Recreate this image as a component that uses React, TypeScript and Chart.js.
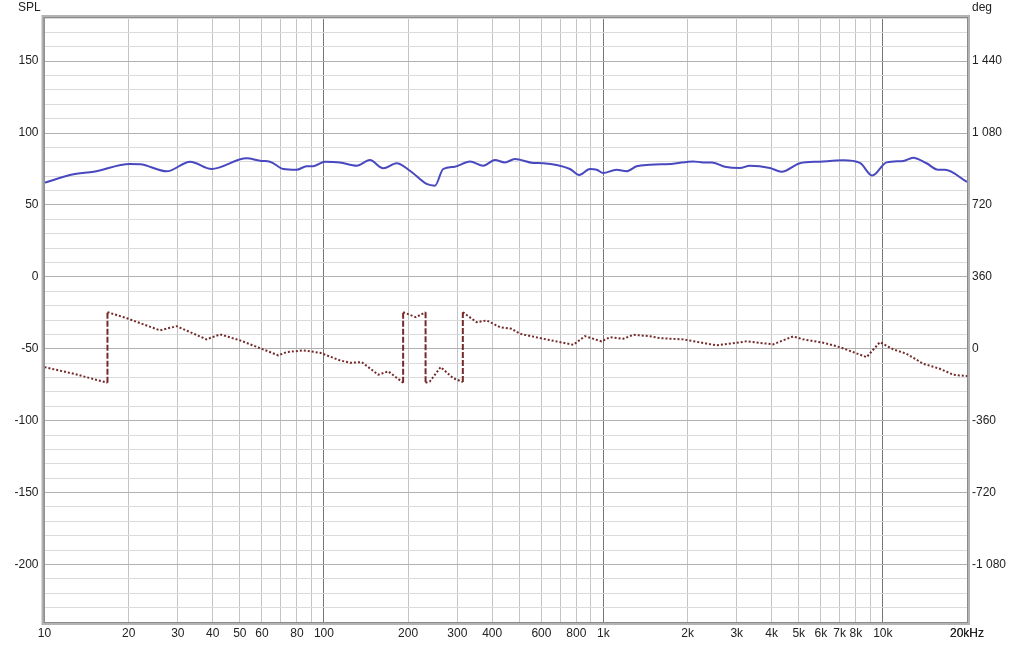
import React, { useEffect, useRef } from "react";
import { Chart, registerables } from "chart.js";

Chart.register(...registerables);

// SPL (magnitude) trace
const splFreq = [10, 12.7, 15, 20.2, 22, 27.4, 33.2, 39.6, 52.9, 59.8, 64.1, 71.5, 79.8, 86.7, 91.6, 100.8, 114, 131, 146, 163, 182, 203, 233, 249.6, 267, 294, 333, 371.5, 409, 444, 482, 561, 609, 759, 819, 895, 946, 998, 1114, 1211, 1315, 1466, 1778, 2096, 2275, 2438, 2720, 3077, 3342, 3942, 4341, 5047, 5951, 7211, 8279, 9160, 10312, 11830, 12837, 14330, 15770, 16670, 20000];
const splValues = [65.5, 71.3, 73.1, 78.5, 78.3, 73.4, 80.1, 75, 82.4, 80.6, 80.1, 75, 74.5, 76.9, 76.9, 80.1, 79.6, 77.3, 81.2, 75.5, 79, 73.8, 64.6, 63.4, 75, 76.6, 80.3, 77.3, 81.2, 79.6, 81.9, 79.2, 79, 75, 70.8, 75, 74.5, 72.2, 74.5, 73.4, 76.9, 78, 78.7, 80.3, 79.6, 79.6, 76.6, 75.7, 77.3, 75.7, 73.1, 79, 80.1, 81, 79.2, 70.4, 79.6, 80.6, 82.9, 79, 74.5, 74.5, 66];

// Phase trace (degrees, wrapped)
const phaseFreq = [10, 12.7, 16.8, 16.8, 19.7, 25.9, 29.7, 38, 42.5, 50.1, 59.8, 68.6, 73.5, 84.3, 96.8, 114, 123.9, 136.5, 156.4, 169.8, 192, 192, 213.4, 231, 231, 239.4, 261.6, 290, 314, 314, 351.9, 382, 426.6, 469.4, 502.6, 609, 780, 859, 985, 1055, 1177, 1279, 1467, 1592, 1930, 2541, 3253, 4051, 4776, 5187, 6116, 7017, 8745, 9756, 10890, 12157, 13937, 15990, 17850, 20000];
const phaseValues = [-92, -125, -170, 183, 153, 92, 113, 47, 72, 42, 0, -33, -17, -8, -20, -58, -70, -67, -130, -113, -170, 183, 158, 183, -170, -163, -92, -147, -167, 183, 133, 142, 108, 100, 75, 50, 20, 63, 37, 58, 50, 70, 63, 53, 47, 17, 37, 22, 62, 47, 30, 8, -42, 33, -3, -25, -75, -100, -130, -137];

// Tick labels
const xTickValues = [10, 20, 30, 40, 50, 60, 80, 100, 200, 300, 400, 600, 800, 1000, 2000, 3000, 4000, 5000, 6000, 7000, 8000, 10000, 20000];
const xTickLabels = ["10", "20", "30", "40", "50", "60", "80", "100", "200", "300", "400", "600", "800", "1k", "2k", "3k", "4k", "5k", "6k", "7k", "8k", "10k", "20kHz"];
const splTickValues = [150, 100, 50, 0, -50, -100, -150, -200];
const degTickValues = [1440, 1080, 720, 360, 0, -360, -720, -1080];
const degTickLabels = ["1 440", "1 080", "720", "360", "0", "-360", "-720", "-1 080"];

const SPL_MIN = -240;
const SPL_MAX = 180;
const DEG_MIN = (SPL_MIN + 50) * 7.2;
const DEG_MAX = (SPL_MAX + 50) * 7.2;

const FONT = "'Liberation Sans', Arial, sans-serif";

export default function App() {
  const ref = useRef<HTMLCanvasElement | null>(null);

  useEffect(() => {
    const canvas = ref.current!;
    const gridFreqs: number[] = [];
    for (let d = 10; d <= 10000; d *= 10) {
      for (let m = 1; m <= 9; m++) {
        const v = d * m;
        if (v <= 20000) gridFreqs.push(v);
      }
    }
    gridFreqs.push(20000);
    const hTicks: number[] = [];
    for (let v = SPL_MIN; v <= SPL_MAX; v += 10) hTicks.push(v);

    const framePlugin = {
      id: "frame",
      afterDraw(chart: any) {
        const { ctx, chartArea: a } = chart;
        ctx.save();
        ctx.strokeStyle = "#b4b4b4";
        ctx.lineWidth = 3;
        ctx.strokeRect(a.left - 1.5, a.top - 1.5, a.right - a.left + 3, a.bottom - a.top + 3);
        ctx.strokeStyle = "#8a8a8a";
        ctx.lineWidth = 1;
        ctx.strokeRect(a.left - 0.5, a.top - 0.5, a.right - a.left + 1, a.bottom - a.top + 1);
        ctx.fillStyle = "#222";
        ctx.font = "12px " + FONT;
        ctx.textBaseline = "middle";
        ctx.textAlign = "left";
        ctx.fillText("SPL", 18, 8);
        ctx.fillText("deg", 972, 8);
        ctx.restore();
      },
    };

    const chart = new Chart(canvas, {
      type: "line",
      data: {
        datasets: [
          {
            label: "SPL",
            data: splFreq.map((f, i) => ({ x: f, y: splValues[i] })),
            borderColor: "#4848c0",
            borderWidth: 2,
            pointRadius: 0,
            cubicInterpolationMode: "monotone",
            yAxisID: "y",
          },
          {
            label: "Phase",
            data: phaseFreq.map((f, i) => ({ x: f, y: phaseValues[i] })),
            borderColor: "#742a2a",
            borderWidth: 2,
            pointRadius: 0,
            tension: 0,
            borderDash: [2, 2],
            borderCapStyle: "butt",
            yAxisID: "y2",
            segment: {
              borderDash: (ctx: any) =>
                Math.abs(ctx.p1.parsed.y - ctx.p0.parsed.y) > 200 ? [6, 2] : [2, 2],
            },
          } as any,
        ],
      },
      options: {
        responsive: false,
        animation: false,
        layout: { padding: { top: 18, left: 0, right: 0, bottom: 0 } },
        plugins: { legend: { display: false }, tooltip: { enabled: false } },
        scales: {
          x: {
            type: "logarithmic",
            min: 10,
            max: 20000,
            afterBuildTicks: (scale: any) => {
              scale.ticks = gridFreqs.map((v) => ({ value: v }));
            },
            afterFit: (scale: any) => {
              scale.height = 25;
            },
            ticks: {
              autoSkip: false,
              maxRotation: 0,
              padding: 4,
              color: "#222",
              font: { family: FONT, size: 12 },
              callback: (v: any) => {
                const i = xTickValues.indexOf(Number(v));
                return i >= 0 ? xTickLabels[i] : "";
              },
            },
            grid: {
              drawTicks: false,
              color: (c: any) => {
                const v = c.tick ? c.tick.value : 0;
                const l = Math.log10(v);
                return Math.abs(l - Math.round(l)) < 1e-6 ? "#767676" : "#c4c4c4";
              },
              lineWidth: 1,
            },
            border: { display: false },
          },
          y: {
            type: "linear",
            position: "left",
            min: SPL_MIN,
            max: SPL_MAX,
            afterBuildTicks: (scale: any) => {
              scale.ticks = hTicks.map((v) => ({ value: v }));
            },
            afterFit: (scale: any) => {
              scale.width = 44.5;
            },
            ticks: {
              autoSkip: false,
              padding: 6,
              color: "#222",
              font: { family: FONT, size: 12 },
              callback: (v: any) => (splTickValues.includes(Number(v)) ? String(v) : ""),
            },
            grid: {
              drawTicks: false,
              color: (c: any) => {
                const v = c.tick ? c.tick.value : 0;
                return v % 50 === 0 ? "#b0b0b0" : "#dadada";
              },
            },
            border: { display: false },
          },
          y2: {
            type: "linear",
            position: "right",
            min: DEG_MIN,
            max: DEG_MAX,
            afterBuildTicks: (scale: any) => {
              scale.ticks = degTickValues.map((v) => ({ value: v }));
            },
            afterFit: (scale: any) => {
              scale.width = 57;
            },
            ticks: {
              autoSkip: false,
              padding: 5,
              color: "#222",
              font: { family: FONT, size: 12 },
              callback: (v: any) => {
                const i = degTickValues.indexOf(Number(v));
                return i >= 0 ? degTickLabels[i] : "";
              },
            },
            grid: { display: false, drawTicks: false },
            border: { display: false },
          },
        },
      } as any,
      plugins: [framePlugin],
    });
    return () => chart.destroy();
  }, []);

  return (
    <div style={{ position: "fixed", left: 0, top: 0, width: 1024, height: 647, background: "#fff" }}>
      <canvas ref={ref} width={1024} height={647} style={{ display: "block" }} />
    </div>
  );
}
